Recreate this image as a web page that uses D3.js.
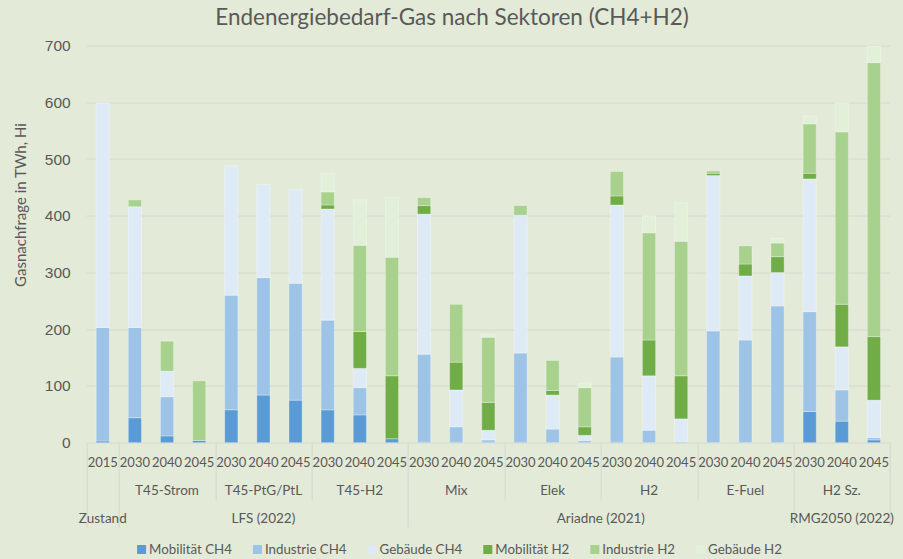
<!DOCTYPE html>
<html>
<head>
<meta charset="utf-8">
<script src="https://cdn.jsdelivr.net/npm/d3@7"></script>
<style>
    body { margin: 0; background: #e3ead7; }
    svg { display: block; font-family: Lato, "Open Sans", sans-serif; }
    text { fill: #595959; }
</style>
</head>
<body>
<script>
// Kategorien (unterste Ebene: Jahre)
var years = ["2015", "2030", "2040", "2045", "2030", "2040", "2045", "2030", "2040", "2045",
    "2030", "2040", "2045", "2030", "2040", "2045", "2030", "2040", "2045",
    "2030", "2040", "2045", "2030", "2040", "2045"];

// zweite Ebene: Szenarien
var scenarioNames = ["", "T45-Strom", "T45-PtG/PtL", "T45-H2", "Mix", "Elek", "H2", "E-Fuel", "H2 Sz."];
var scenarioSizes = [1, 3, 3, 3, 3, 3, 3, 3, 3];

// dritte Ebene: Studien
var studyNames = ["Zustand", "LFS (2022)", "Ariadne (2021)", "RMG2050 (2022)"];
var studySizes = [1, 9, 12, 3];

var seriesNames = ["Mobilität CH4", "Industrie CH4", "Gebäude CH4", "Mobilität H2", "Industrie H2", "Gebäude H2"];
var seriesColors = ["#5b9bd5", "#9dc3e6", "#deebf7", "#70ad47", "#a9d18e", "#e2f0d9"];

// Werte in TWh (Hi)
var mobilitaetCH4 = [3, 44, 12, 4, 58, 84, 75, 58, 49, 7, 1, 1, 1, 1, 0, 1, 1, 0, 0, 0, 0, 0, 55, 38, 5];
var industrieCH4  = [200, 159, 69, 0, 202, 207, 206, 158, 48, 0, 155, 27, 4, 157, 24, 3, 150, 22, 2, 197, 181, 241, 176, 55, 4];
var gebaeudeCH4   = [396, 213, 45, 0, 228, 164, 166, 196, 34, 0, 247, 65, 17, 243, 60, 9, 268, 96, 40, 274, 113, 59, 234, 76, 66];
var mobilitaetH2  = [0, 0, 0, 0, 0, 0, 0, 7, 65, 111, 15, 49, 49, 0, 8, 15, 16, 63, 76, 4, 21, 28, 10, 75, 112];
var industrieH2   = [0, 12, 53, 105, 0, 0, 0, 23, 152, 209, 14, 102, 115, 17, 53, 69, 43, 189, 237, 4, 32, 24, 87, 304, 483];
var gebaeudeH2    = [0, 0, 0, 0, 0, 0, 0, 33, 80, 106, 0, 0, 5, 0, 0, 8, 0, 30, 68, 0, 0, 8, 14, 51, 29];

var yTicks = [0, 100, 200, 300, 400, 500, 600, 700];

var seriesValues = [mobilitaetCH4, industrieCH4, gebaeudeCH4, mobilitaetH2, industrieH2, gebaeudeH2];

var data = years.map(function(y, i) {
    var row = {idx: i, year: y};
    seriesNames.forEach(function(s, k) { row[s] = seriesValues[k][i]; });
    return row;
});

var W = 903, H = 559;
var margin = {top: 45.6, right: 13, bottom: 116.3, left: 86.7},
    width = W - margin.left - margin.right,
    height = H - margin.top - margin.bottom;

var svg = d3.select("body").append("svg")
    .attr("width", W)
    .attr("height", H);

svg.append("rect")
    .attr("width", W)
    .attr("height", H)
    .attr("fill", "#e3ead7");

var x = d3.scaleBand()
    .domain(d3.range(years.length))
    .range([0, width])
    .paddingInner(0.59)
    .paddingOuter(0.295);

var y = d3.scaleLinear()
    .domain([0, 700])
    .range([height, 0]);

var g = svg.append("g")
    .attr("transform", "translate(" + margin.left + "," + margin.top + ")");

// Gitterlinien
g.append("g")
    .attr("class", "grid")
    .selectAll("line")
    .data(yTicks)
    .enter().append("line")
    .attr("x1", 0)
    .attr("x2", width)
    .attr("y1", function(d) { return Math.round(y(d)) + 0.5; })
    .attr("y2", function(d) { return Math.round(y(d)) + 0.5; })
    .attr("stroke", "#d5d8d0")
    .attr("stroke-width", 1);

// y-Achse
var yAxis = d3.axisLeft(y)
    .tickValues(yTicks)
    .tickSize(0)
    .tickPadding(16);

g.append("g")
    .attr("class", "y axis")
    .call(yAxis)
    .call(function(s) { s.select(".domain").remove(); })
    .selectAll("text")
    .style("font-size", "15.5px")
    .attr("fill", "#595959");

// gestapelte Balken
var stack = d3.stack().keys(seriesNames);
var layers = stack(data);

g.append("g")
    .attr("class", "bars")
    .selectAll("g")
    .data(layers)
    .enter().append("g")
    .attr("fill", function(d, i) { return seriesColors[i]; })
    .selectAll("rect")
    .data(function(d) { return d; })
    .enter().append("rect")
    .attr("x", function(d) { return x(d.data.idx); })
    .attr("width", x.bandwidth())
    .attr("y", function(d) { return y(d[1]); })
    .attr("height", function(d) { return Math.max(0, y(d[0]) - y(d[1])); })
    .attr("stroke", "#ffffff")
    .attr("stroke-opacity", function(d) { return d[1] - d[0] > 0 ? 0.3 : 0; })
    .attr("stroke-width", 1);

// mehrstufige Kategorienachse
var step = x.step();
var axisG = g.append("g")
    .attr("class", "x axis")
    .attr("transform", "translate(0," + height + ")");

axisG.selectAll("text.year")
    .data(years)
    .enter().append("text")
    .attr("class", "year")
    .attr("x", function(d, i) { return x(i) + x.bandwidth() / 2; })
    .attr("y", 24)
    .attr("text-anchor", "middle")
    .style("font-size", "13px")
    .text(function(d) { return d; });

function groupRanges(sizes) {
    var start = 0;
    return sizes.map(function(n) {
        var r = {start: start, end: start + n};
        start += n;
        return r;
    });
}

var scenarioRanges = groupRanges(scenarioSizes);
var studyRanges = groupRanges(studySizes);

var studyBounds = [0];
studyRanges.forEach(function(r) { studyBounds.push(r.end); });

var scenarioBounds = [];
scenarioRanges.forEach(function(r) {
    if (studyBounds.indexOf(r.end) < 0) scenarioBounds.push(r.end);
});

axisG.selectAll("line.scen")
    .data(scenarioBounds)
    .enter().append("line")
    .attr("class", "scen")
    .attr("x1", function(d) { return Math.round(d * step) + 0.5; })
    .attr("x2", function(d) { return Math.round(d * step) + 0.5; })
    .attr("y1", 0)
    .attr("y2", 57)
    .attr("stroke", "#d5d8d0");

axisG.selectAll("line.study")
    .data(studyBounds)
    .enter().append("line")
    .attr("class", "study")
    .attr("x1", function(d) { return Math.round(d * step) + 0.5; })
    .attr("x2", function(d) { return Math.round(d * step) + 0.5; })
    .attr("y1", 0)
    .attr("y2", 85)
    .attr("stroke", "#d5d8d0");

axisG.selectAll("text.scen")
    .data(scenarioRanges)
    .enter().append("text")
    .attr("class", "scen")
    .attr("x", function(d) { return (d.start + d.end) / 2 * step; })
    .attr("y", 52)
    .attr("text-anchor", "middle")
    .style("font-size", "13.5px")
    .text(function(d, i) { return scenarioNames[i]; });

axisG.selectAll("text.study")
    .data(studyRanges)
    .enter().append("text")
    .attr("class", "study")
    .attr("x", function(d) { return (d.start + d.end) / 2 * step; })
    .attr("y", 80)
    .attr("text-anchor", "middle")
    .style("font-size", "13.5px")
    .text(function(d, i) { return studyNames[i]; });

// Titel
svg.append("text")
    .attr("x", 452)
    .attr("y", 25)
    .attr("text-anchor", "middle")
    .style("font-size", "22.5px")
    .text("Endenergiebedarf-Gas nach Sektoren (CH4+H2)");

// y-Achsentitel
svg.append("text")
    .attr("transform", "translate(26,205) rotate(-90)")
    .attr("text-anchor", "middle")
    .style("font-size", "15px")
    .text("Gasnachfrage in TWh, Hi");

// Legende
var legend = svg.append("g").attr("class", "legend");
var lx = 0;
seriesNames.forEach(function(name, i) {
    var item = legend.append("g").attr("transform", "translate(" + lx + ",0)");
    item.append("rect")
        .attr("x", 0)
        .attr("y", -9)
        .attr("width", 9)
        .attr("height", 9)
        .attr("fill", seriesColors[i]);
    var t = item.append("text")
        .attr("x", 12)
        .attr("y", 0)
        .style("font-size", "13.3px")
        .text(name);
    lx += 12 + t.node().getComputedTextLength() + 21;
});
var legendWidth = lx - 21;
legend.attr("transform", "translate(" + (459.5 - legendWidth / 2) + ",554)");
</script>
</body>
</html>
